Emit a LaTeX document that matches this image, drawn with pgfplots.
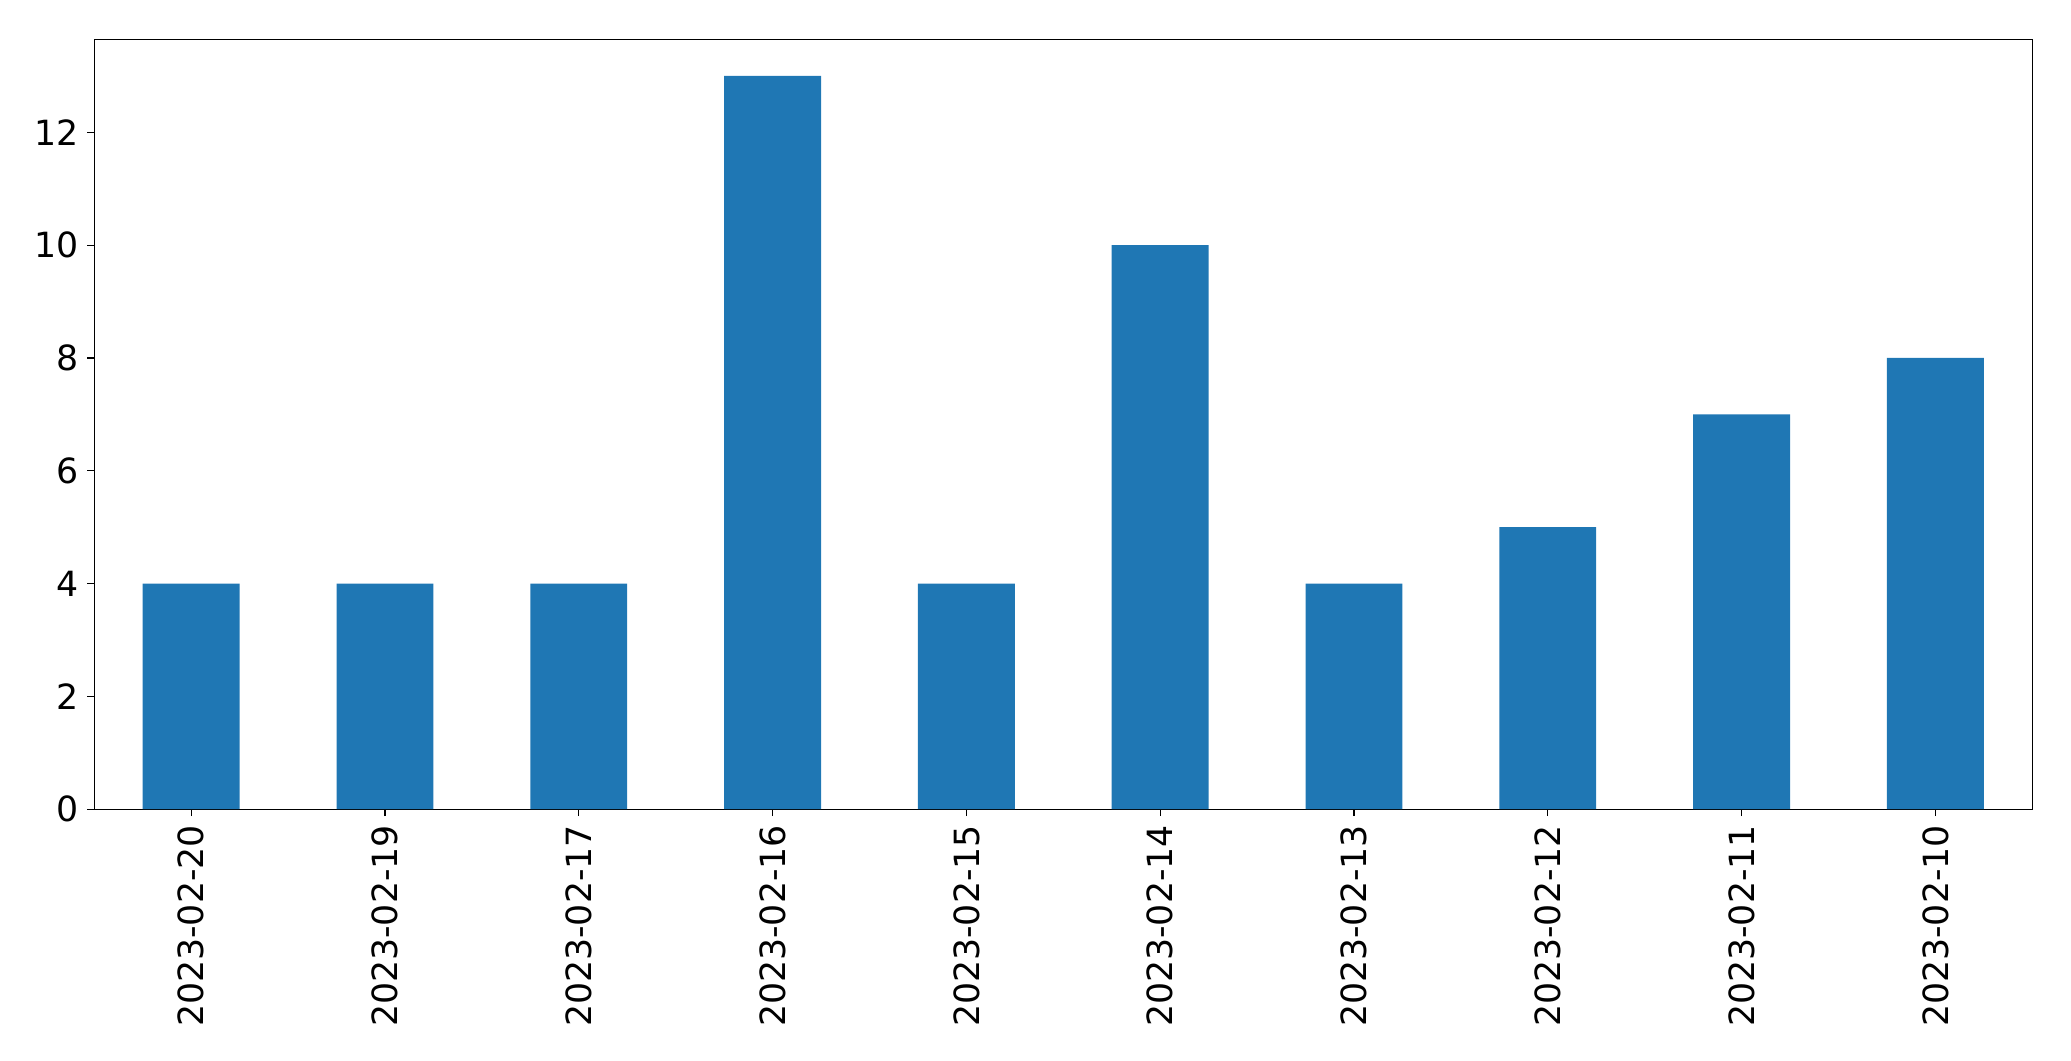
\documentclass[border=0pt]{standalone}
\usepackage{pgfplots}
\pgfplotsset{compat=1.18}
\usepackage{fontspec}
\setmainfont{DejaVu Sans}
\definecolor{mplblue}{HTML}{1F77B4}
\begin{document}
\begin{tikzpicture}
\begin{axis}[
  name=ax,
  scale only axis,
  width=1395.4pt, height=554.4pt,
  xmin=-0.5, xmax=9.5, ymin=0, ymax=13.65,
  ybar, bar width=0.5,
  xtick={0,...,9},
  xticklabels={2023-02-20,2023-02-19,2023-02-17,2023-02-16,2023-02-15,2023-02-14,2023-02-13,2023-02-12,2023-02-11,2023-02-10},
  x tick label style={rotate=90, anchor=east},
  ytick={0,2,4,6,8,10,12},
  tick label style={font=\fontsize{25}{30}\selectfont},
  /pgf/number format/assume math mode=true,
  tick align=outside,
  xtick pos=bottom, ytick pos=left,
  major tick length=4.9pt,
  tick style={black, line width=0.8pt},
  axis line style={line width=0.8pt},
  xticklabel shift=3pt, yticklabel shift=3pt,
  axis on top=false,
]
\addplot[fill=mplblue, draw=none] coordinates {(0,4) (1,4) (2,4) (3,13) (4,4) (5,10) (6,4) (7,5) (8,7) (9,8)};
\end{axis}
\pgfresetboundingbox
\path ([shift={(-67.9pt,-181.2pt)}]ax.south west) rectangle ([shift={(27.9pt,28.3pt)}]ax.north east);
\end{tikzpicture}
\end{document}
